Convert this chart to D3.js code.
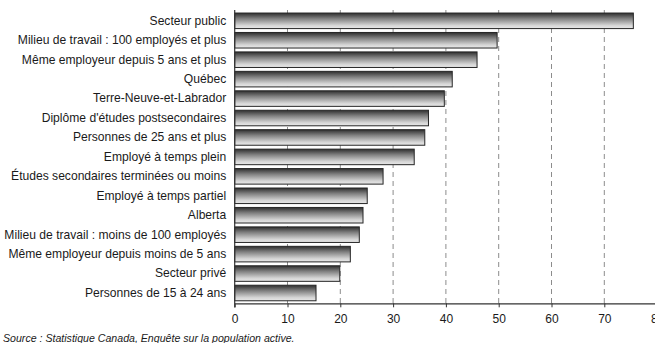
<!DOCTYPE html>
<html><head><meta charset="utf-8">
<script src="https://cdn.jsdelivr.net/npm/d3@7"></script>
<style>html,body{margin:0;padding:0;background:#fff;overflow:hidden}svg{display:block}</style>
</head><body>
<svg id="c" width="655" height="343"></svg>
<script>
const categories = [
  "Secteur public",
  "Milieu de travail : 100 employés et plus",
  "Même employeur depuis 5 ans et plus",
  "Québec",
  "Terre-Neuve-et-Labrador",
  "Diplôme d'études postsecondaires",
  "Personnes de 25 ans et plus",
  "Employé à temps plein",
  "Études secondaires terminées ou moins",
  "Employé à temps partiel",
  "Alberta",
  "Milieu de travail : moins de 100 employés",
  "Même employeur depuis moins de 5 ans",
  "Secteur privé",
  "Personnes de 15 à 24 ans"
];
const values = [75.5, 49.7, 45.9, 41.2, 39.7, 36.7, 36.0, 34.0, 28.1, 25.1, 24.3, 23.6, 21.9, 19.9, 15.4];
const xTicks = [0, 10, 20, 30, 40, 50, 60, 70, 80];
const sourceText = "Source : Statistique Canada, Enquête sur la population active.";

const svg = d3.select("#c");
const x0 = 234.7, pxPer10 = 52.8;
const x = d3.scaleLinear().domain([0, 80]).range([x0, x0 + pxPer10 * 8]);
const y = d3.scaleBand().domain(categories).range([10.5, 303.3]).paddingInner(0.2).paddingOuter(0.13);

const defs = svg.append("defs");
const g = defs.append("linearGradient").attr("id", "bg").attr("x1", 0).attr("y1", 0).attr("x2", 0).attr("y2", 1);
g.append("stop").attr("offset", "0%").attr("stop-color", "#2e2e2e");
g.append("stop").attr("offset", "35%").attr("stop-color", "#7e7e7e");
g.append("stop").attr("offset", "80%").attr("stop-color", "#d6d6d6");
g.append("stop").attr("offset", "100%").attr("stop-color", "#e8e8e8");

// gridlines
svg.append("g").selectAll("line").data(xTicks.filter(d => d > 0)).join("line")
  .attr("x1", d => x(d)).attr("x2", d => x(d))
  .attr("y1", 10).attr("y2", 303.3)
  .attr("stroke", "#8c8c8c").attr("stroke-width", 1).attr("stroke-dasharray", "5,4");

// bars
svg.append("g").selectAll("rect").data(values).join("rect")
  .attr("x", x(0)).attr("y", (d, i) => y(categories[i]))
  .attr("width", d => x(d) - x(0)).attr("height", y.bandwidth())
  .attr("fill", "url(#bg)").attr("stroke", "#262626").attr("stroke-width", 1);

// y axis
const yAxis = d3.axisLeft(y).tickSize(0).tickPadding(8.5);
const ya = svg.append("g").attr("transform", `translate(${x0},0)`).call(yAxis);
ya.select(".domain").remove();
ya.selectAll("text").attr("font-family", "Liberation Sans, Arial, sans-serif").attr("font-size", "12.1px").attr("fill", "#1a1a1a");
svg.append("line").attr("x1", x0).attr("x2", x0).attr("y1", 10).attr("y2", 307.5).attr("stroke", "#333").attr("stroke-width", 1.2);

// x axis
const xAxis = d3.axisBottom(x).tickValues(xTicks).tickSize(4).tickSizeOuter(0).tickPadding(7);
const xa = svg.append("g").attr("transform", `translate(0,303.3)`).call(xAxis);
xa.select(".domain").attr("stroke", "#333").attr("stroke-width", 1.2);
xa.selectAll(".tick line").attr("stroke", "#333");
xa.selectAll("text").attr("font-family", "Liberation Sans, Arial, sans-serif").attr("font-size", "12px").attr("fill", "#1a1a1a");

svg.append("text").attr("x", 3).attr("y", 342)
  .attr("font-family", "Liberation Sans, Arial, sans-serif").attr("font-size", "10.6px").attr("font-style", "italic").attr("fill", "#1a1a1a")
  .text(sourceText);
</script>
</body></html>
